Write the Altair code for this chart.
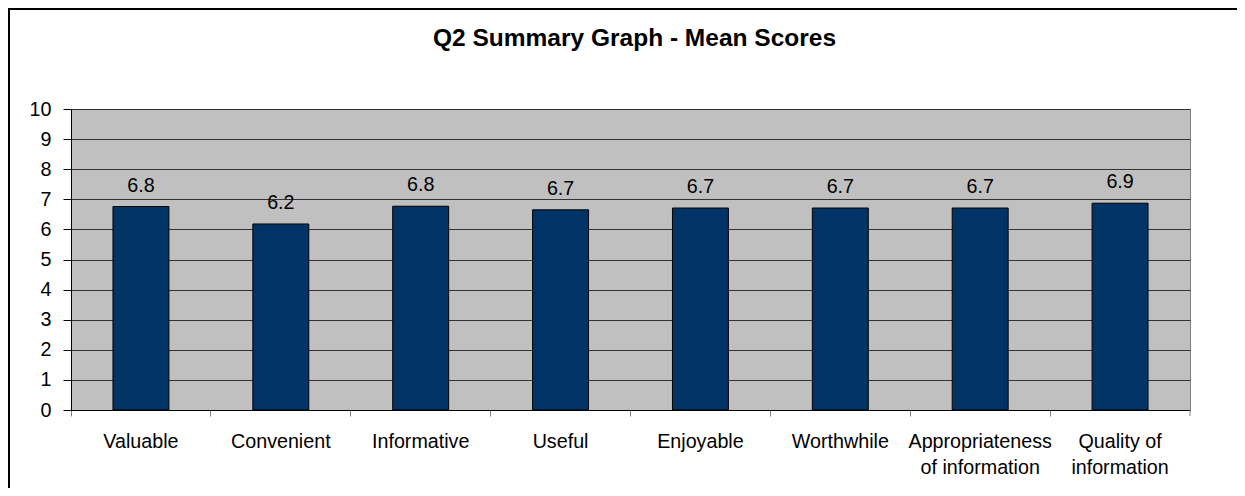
import altair as alt
import pandas as pd

categories = ["Valuable", "Convenient", "Informative", "Useful", "Enjoyable",
              "Worthwhile", "Appropriateness\nof information", "Quality of\ninformation"]
mean_scores = [6.76, 6.18, 6.77, 6.65, 6.71, 6.71, 6.71, 6.87]
y_ticks = list(range(0, 11))

df = pd.DataFrame({"category": categories, "score": mean_scores})
one = pd.DataFrame({"k": [0]})

W, H = 1119, 301
FONT = "Liberation Sans"
FS = 19.7

x_enc = alt.X(
    "category:N", sort=categories, title=None,
    scale=alt.Scale(paddingInner=0, paddingOuter=0),
    axis=alt.Axis(bandPosition=0,
                  labelExpr="split(datum.label, '\\n')",
                  labelAngle=0, labelFontSize=FS, labelFont=FONT, labelColor="black",
                  labelPadding=15, labelLineHeight=26, labelBaseline="top",
                  labelAlign="center", tickSize=6, tickColor="#808080",
                  domainColor="black", grid=False),
)
y_enc = alt.Y(
    "score:Q", title=None,
    scale=alt.Scale(domain=[0, 10], nice=False),
    axis=alt.Axis(values=y_ticks, format="d", tickSize=8, tickColor="black",
                  domainColor="black", gridColor="#333333", gridWidth=1,
                  labelOverlap=False,
                  labelFontSize=FS, labelFont=FONT, labelColor="black", labelPadding=12),
)

bars = alt.Chart(df).mark_bar(
    width=alt.RelativeBandSize(0.4), color="#003366", stroke="black", strokeWidth=1
).encode(x=x_enc, y=y_enc)

labels = alt.Chart(df).mark_text(
    baseline="alphabetic", dy=-15, fontSize=FS, font=FONT, color="black"
).encode(x=x_enc, y=y_enc, text=alt.Text("score:Q", format=".1f"))

end_tick = alt.Chart(one).mark_rule(color="#808080", strokeWidth=1).encode(
    x=alt.value(W), y=alt.value(H), y2=alt.value(H + 6))

frame_left = alt.Chart(one).mark_rule(color="black", strokeWidth=2).encode(
    x=alt.value(-62), y=alt.value(-101), y2=alt.value(500))
frame_top = alt.Chart(one).mark_rule(color="black", strokeWidth=2).encode(
    x=alt.value(-63), x2=alt.value(1300), y=alt.value(-100))

chart = alt.layer(bars, labels, end_tick, frame_left, frame_top).properties(
    width=W, height=H,
    padding={"left": 63, "top": 101, "right": 47, "bottom": 78},
    autosize=alt.AutoSizeParams(type="none"),
    title=alt.TitleParams("Q2 Summary Graph - Mean Scores", fontSize=24.5, fontWeight="bold",
                          font=FONT, color="black", anchor="middle", dx=4,
                          baseline="alphabetic", offset=-63.5),
    background="white",
).configure_view(fill="#C0C0C0", stroke="#808080", strokeWidth=1)

chart.save("out.html", embed_options={"renderer": "svg", "actions": False})
